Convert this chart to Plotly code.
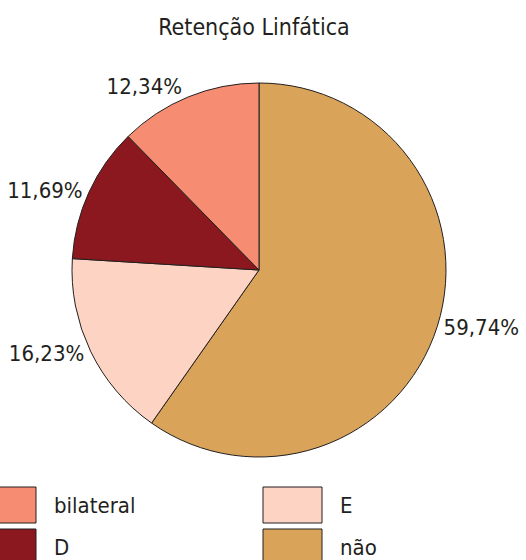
import plotly.graph_objects as go

title = "Retenção Linfática"
categories = ["não", "E", "D", "bilateral"]
values = [59.74, 16.23, 11.69, 12.34]
colors = ["#D9A45A", "#FDD3C3", "#8A181E", "#F68C71"]
legend_order = ["bilateral", "D", "E", "não"]

FONT = "Liberation Sans Narrow, DejaVu Sans Condensed, Arial Narrow, sans-serif"
W, H = 526, 560
ML, MR, MT, MB = 72, 80, 83, 103
PW = W - ML - MR
PH = H - MT - MB

fig = go.Figure(go.Pie(
    labels=categories,
    values=values,
    sort=False,
    direction="clockwise",
    rotation=0,
    marker=dict(colors=colors, line=dict(color="#231F20", width=1)),
    textposition="outside",
    texttemplate="%{percent:.2%}",
    textfont=dict(family=FONT, size=22, color="#231F20"),
    showlegend=False,
    hoverinfo="label+percent",
))

# custom legend (large swatches), 2 columns x 2 rows, column-major
col_x = [-23, 263]
row_y = [487, 529]
sw_w, sw_h = 59, 36
def px2x(px):
    return (px - ML) / PW
def py2y(py):
    return (H - MB - py) / PH

color_of = dict(zip(categories, colors))
shapes, annotations = [], []
for i, name in enumerate(legend_order):
    c, r = divmod(i, 2)
    x0, y0 = col_x[c], row_y[r]
    shapes.append(dict(type="rect", xref="paper", yref="paper",
                       x0=px2x(x0), x1=px2x(x0 + sw_w),
                       y0=py2y(y0 + sw_h), y1=py2y(y0),
                       fillcolor=color_of[name],
                       line=dict(color="#231F20", width=1)))
    annotations.append(dict(xref="paper", yref="paper",
                            x=px2x(x0 + sw_w + 16), y=py2y(y0 + sw_h / 2),
                            xanchor="left", yanchor="middle", showarrow=False,
                            text=name,
                            font=dict(family=FONT, size=22, color="#231F20")))

fig.update_layout(
    width=W, height=H,
    margin=dict(l=ML, r=MR, t=MT, b=MB),
    separators=",.",
    paper_bgcolor="white", plot_bgcolor="white",
    title=dict(text=title, x=254 / W, xanchor="center", y=1 - 27 / H, yanchor="middle",
               font=dict(family=FONT, size=23, color="#231F20")),
    shapes=shapes,
    annotations=annotations,
)

fig.write_html("out.html", config={"displayModeBar": False},
               post_script="document.body.style.margin='0';document.body.style.overflow='hidden';")
